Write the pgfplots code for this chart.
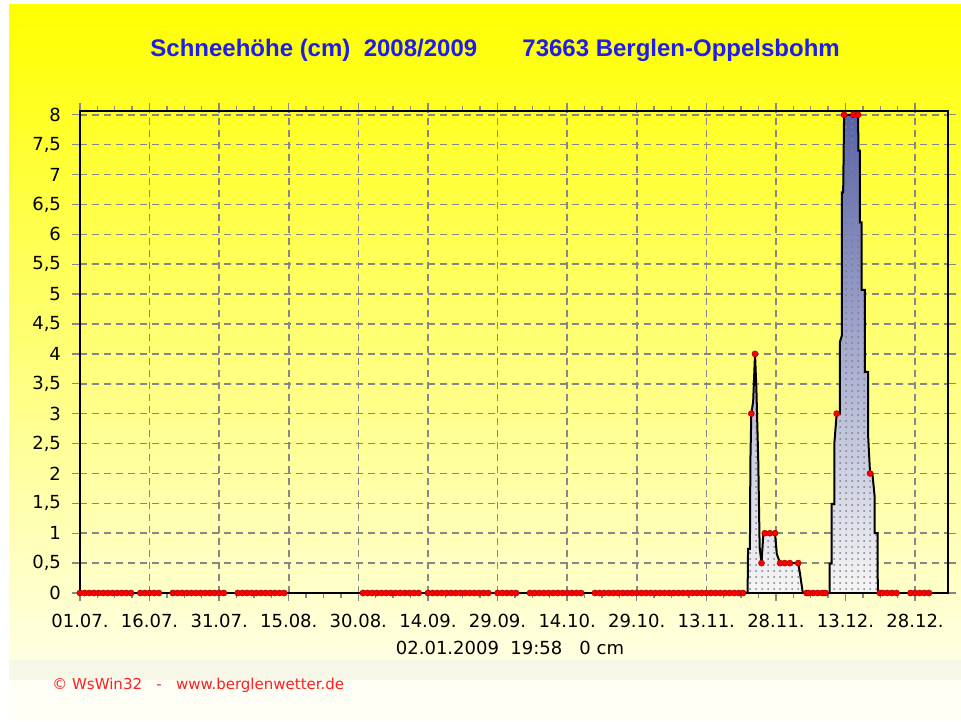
\documentclass[border=0pt]{standalone}
\usepackage{pgfplots}
\pgfplotsset{compat=1.18}
\usepackage{pgfplotstable}
\usepackage{fontspec}
\setmainfont{DejaVu Sans}
\newfontfamily\titlefont{Liberation Sans}
\usetikzlibrary{patterns}

\definecolor{titleblue}{RGB}{30,30,230}
\definecolor{bgtop}{RGB}{255,255,0}
\definecolor{bgbot}{RGB}{255,255,226}
\definecolor{footband}{RGB}{247,247,231}
\definecolor{footwhite}{RGB}{255,255,245}
\definecolor{gridgray}{RGB}{135,135,135}
\definecolor{fillA}{RGB}{172,176,208}
\definecolor{fillB}{RGB}{88,98,170}
\definecolor{fillbot}{RGB}{246,246,246}
\definecolor{wsred}{RGB}{255,30,30}

\pgfplotstableread{
x y
142.9 0
143.9 0
144.0 0.74
144.4 0.74
144.5 2.2
144.7 3.0
145.1 3.2
145.5 4.0
145.8 3.4
146.2 2.2
146.5 0.76
146.9 0.5
147.3 1.0
149.8 1.0
150.2 0.65
150.9 0.5
154.8 0.5
155.2 0.32
155.8 0
156.6 0
}\peakA

\pgfplotstableread{
x y
160.7 0
161.6 0
161.6 0.49
162.0 0.49
162.0 1.49
162.6 1.49
162.6 2.5
163.1 3.0
163.8 3.0
163.8 4.2
164.2 4.3
164.2 6.7
164.5 6.7
164.7 8.0
167.7 8.0
167.8 7.4
168.1 7.4
168.1 6.2
168.5 6.2
168.5 5.07
169.2 5.07
169.2 3.7
169.9 3.7
169.9 2.6
170.3 2.0
170.8 2.0
171.3 1.6
171.3 1.0
171.9 1.0
171.9 0.49
172.0 0
172.4 0
}\peakB

\begin{document}
\begin{tikzpicture}
% background
\begin{scope}[x=0.5pt,y=0.5pt]
\fill[white] (0,0) rectangle (961,721);
\shade[top color=bgtop, bottom color=bgbot] (9,716) rectangle (961,61);
\fill[footband] (9,61) rectangle (961,41);
\fill[footwhite] (9,41) rectangle (961,0);
\end{scope}

\begin{axis}[
  at={(40pt,64pt)}, anchor=south west,
  width=434pt, height=241.2pt, scale only axis,
  xmin=0, xmax=187.1, ymin=0, ymax=8.07,
  axis line style={black, line width=1pt},
  xtick={0,15,...,180},
  xticklabels={01.07.,16.07.,31.07.,15.08.,30.08.,14.09.,29.09.,14.10.,29.10.,13.11.,28.11.,13.12.,28.12.},
  minor x tick num=3,
  ytick={0,0.5,...,8},
  tick align=outside,
  major tick length=4pt,
  minor tick length=2.5pt,
  tick style={gridgray, line width=0.7pt},
  xmajorgrids, ymajorgrids,
  major grid style={gridgray, line width=0.8pt, dash pattern=on 3.5pt off 2.5pt},
  /pgf/number format/use comma,
  /pgf/number format/assume math mode=true,
  ticklabel style={font=\fontsize{9}{10}\selectfont, text=black},
  yticklabel style={xshift=-2pt},
  xticklabel style={yshift=-3pt},
  clip=false,
]
% shaded areas
\addplot[draw=none, top color=fillA, bottom color=fillbot] table {\peakA} \closedcycle;
\addplot[draw=none, top color=fillB, bottom color=fillbot] table {\peakB} \closedcycle;
\addplot[draw=none, pattern=dots, pattern color=gray] table {\peakA} \closedcycle;
\addplot[draw=none, pattern=dots, pattern color=gray] table {\peakB} \closedcycle;
% black lines
\addplot[black, line width=1pt] coordinates {(0,0) (187.1,0)};
\addplot[black, line width=1pt] table {\peakA};
\addplot[black, line width=1pt] table {\peakB};
% red markers
\addplot[only marks, mark=*, mark size=1.5pt, mark options={fill=red, draw=red!70!black, line width=0.3pt}] coordinates {
(0,0) (1,0) (2,0) (3,0) (4,0) (5,0) (6,0) (7,0) (8,0) (9,0) (10,0) (11,0)
(13,0) (14,0) (15,0) (16,0) (17,0)
(20,0) (21,0) (22,0) (23,0) (24,0) (25,0) (26,0) (27,0) (28,0) (29,0) (30,0) (31,0)
(34,0) (35,0) (36,0) (37,0) (38,0) (39,0) (40,0) (41,0) (42,0) (43,0) (44,0)
(61,0) (62,0) (63,0) (64,0) (65,0) (66,0) (67,0) (68,0) (69,0) (70,0) (71,0) (72,0) (73,0)
(75,0) (76,0) (77,0) (78,0) (79,0) (80,0) (81,0) (82,0) (83,0) (84,0) (85,0) (86,0) (87,0) (88,0)
(90,0) (91,0) (92,0) (93,0) (94,0)
(97,0) (98,0) (99,0) (100,0) (101,0) (102,0) (103,0) (104,0) (105,0) (106,0) (107,0) (108,0)
(111,0) (112,0) (113,0) (114,0) (115,0) (116,0) (117,0) (118,0) (119,0) (120,0) (121,0) (122,0) (123,0) (124,0) (125,0) (126,0) (127,0) (128,0) (129,0) (130,0) (131,0) (132,0) (133,0) (134,0) (135,0) (136,0) (137,0) (138,0) (139,0) (140,0) (141,0) (142,0) (142.9,0)
(144.7,3) (145.5,4) (146.9,0.5) (147.6,1) (148.7,1) (149.8,1) (150.9,0.5) (151.9,0.5) (153.0,0.5) (154.8,0.5)
(156.6,0) (157,0) (158,0) (159,0) (160,0) (160.7,0)
(163.1,3) (164.7,8) (166.7,8) (167.7,8) (170.3,2)
(172.4,0) (173,0) (174,0) (175,0) (176,0)
(179,0) (180,0) (181,0) (182,0) (183,0)
};
\end{axis}

% titles and texts
\begin{scope}[x=0.5pt,y=0.5pt]
\node[anchor=base west, inner sep=0, text=titleblue, font=\titlefont\bfseries\fontsize{12}{14}\selectfont] at (150,664) {Schneehöhe (cm)\ \ 2008/2009};
\node[anchor=base west, inner sep=0, text=titleblue, font=\titlefont\bfseries\fontsize{12}{14}\selectfont] at (522,664) {73663 Berglen-Oppelsbohm};
\node[anchor=base, inner sep=0, text=black, font=\fontsize{9}{10}\selectfont] at (510,66) {02.01.2009\ \ 19:58\ \ \ 0 cm};
\node[anchor=base west, inner sep=0, text=wsred, font=\fontsize{7.5}{9}\selectfont] at (52,32) {© WsWin32\ \ \ -\ \ \ www.berglenwetter.de};
\end{scope}
\end{tikzpicture}
\end{document}
